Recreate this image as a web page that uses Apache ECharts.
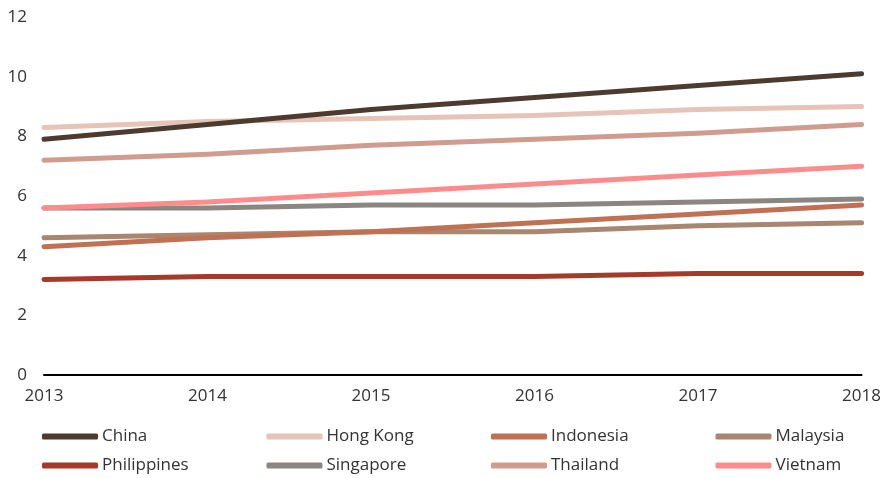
<!DOCTYPE html>
<html>
<head>
<meta charset="utf-8">
<style>
  html, body { margin: 0; padding: 0; background: #fff; }
  #chart { width: 884px; height: 478px; }
</style>
<script src="https://cdn.jsdelivr.net/npm/echarts@6/dist/echarts.min.js"></script>
</head>
<body>
<div id="chart"></div>
<script>
// Years on the horizontal axis
const years = ['2013', '2014', '2015', '2016', '2017', '2018'];

// Values per market
const china       = [7.9, 8.4, 8.9, 9.3, 9.7, 10.1];
const hongKong    = [8.3, 8.5, 8.6, 8.7, 8.9, 9.0];
const indonesia   = [4.3, 4.6, 4.8, 5.1, 5.4, 5.7];
const malaysia    = [4.6, 4.7, 4.8, 4.8, 5.0, 5.1];
const philippines = [3.2, 3.3, 3.3, 3.3, 3.4, 3.4];
const singapore   = [5.6, 5.6, 5.7, 5.7, 5.8, 5.9];
const thailand    = [7.2, 7.4, 7.7, 7.9, 8.1, 8.4];
const vietnam     = [5.6, 5.8, 6.1, 6.4, 6.7, 7.0];

const seriesDefs = [
  { name: 'China',       data: china,       color: '#4e3b30' },
  { name: 'Hong Kong',   data: hongKong,    color: '#e6c4b8' },
  { name: 'Indonesia',   data: indonesia,   color: '#c07053' },
  { name: 'Malaysia',    data: malaysia,    color: '#a88670' },
  { name: 'Philippines', data: philippines, color: '#a63a2a' },
  { name: 'Singapore',   data: singapore,   color: '#8c8682' },
  { name: 'Thailand',    data: thailand,    color: '#d09c90' },
  { name: 'Vietnam',     data: vietnam,     color: '#ff8c8c' }
];

// Draw order: later series paint on top
const drawOrder = ['Malaysia', 'Indonesia', 'Singapore', 'Vietnam', 'Philippines', 'Thailand', 'Hong Kong', 'China'];

const FONT = '"Open Sans", "Noto Sans", sans-serif';

// Legend laid out as a 4 x 2 grid
const legends = seriesDefs.map((s, i) => ({
  data: [s.name],
  left: 42 + (i % 4) * 224.5,
  top: 428 + Math.floor(i / 4) * 29,
  itemWidth: 56,
  itemHeight: 6,
  icon: 'roundRect',
  itemGap: 0,
  padding: 0,
  selectedMode: false,
  textStyle: { fontFamily: FONT, fontSize: 17, color: '#333', padding: [0, 0, 0, -1] }
}));

const chart = echarts.init(document.getElementById('chart'), null, { renderer: 'canvas' });
chart.setOption({
  animation: false,
  backgroundColor: '#fff',
  grid: { left: 44, right: 20, top: 17, bottom: 103, containLabel: false },
  legend: legends,
  xAxis: {
    type: 'category',
    data: years,
    boundaryGap: false,
    axisLine: { show: true, lineStyle: { color: '#000', width: 2 } },
    axisTick: { show: false },
    axisLabel: { fontFamily: FONT, fontSize: 17, color: '#333', margin: 13 },
    splitLine: { show: false }
  },
  yAxis: {
    type: 'value',
    min: 0,
    max: 12,
    interval: 2,
    axisLine: { show: false },
    axisTick: { show: false },
    axisLabel: { fontFamily: FONT, fontSize: 17, color: '#333', margin: 17 },
    splitLine: { show: false }
  },
  series: drawOrder.map(n => {
    const s = seriesDefs.find(d => d.name === n);
    return {
      name: s.name,
      type: 'line',
      data: s.data,
      symbol: 'none',
      color: s.color,
      lineStyle: { color: s.color, width: 5, cap: 'round', join: 'round' },
      z: 2
    };
  })
});
</script>
</body>
</html>
